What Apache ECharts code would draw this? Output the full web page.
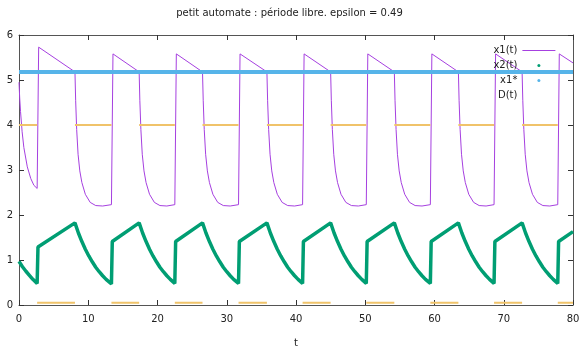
<!DOCTYPE html>
<html>
<head>
<meta charset="utf-8">
<script src="https://cdn.jsdelivr.net/npm/echarts@6/dist/echarts.min.js"></script>
<style>
  html, body { margin: 0; padding: 0; background: #fff; }
  #chart { width: 579px; height: 352px; }
</style>
</head>
<body>
<div id="chart"></div>
<script>
// Axis ticks
const xTicks = [0, 10, 20, 30, 40, 50, 60, 70, 80];
const yTicks = [0, 1, 2, 3, 4, 5, 6];

// x1(t): fast decay while D = 4, linear drift down to x1* while D is off
const x1Points = [
  [0, 4.95], [0.1, 4.6], [0.22, 4.3], [0.45, 3.85], [0.7, 3.5], [1.2, 3.07], [1.7, 2.81], [2.15, 2.66], [2.62, 2.59],
  [2.84, 5.73], [8.08, 5.18],
  [8.18, 4.55], [8.33, 3.9], [8.53, 3.35], [8.78, 2.98], [9.08, 2.72], [9.58, 2.46], [10.28, 2.28], [11.08, 2.21], [12.08, 2.2], [13.35, 2.23],
  [13.57, 5.58], [17.35, 5.18],
  [17.45, 4.55], [17.6, 3.9], [17.8, 3.35], [18.05, 2.98], [18.35, 2.72], [18.85, 2.46], [19.55, 2.28], [20.35, 2.21], [21.35, 2.2], [22.5, 2.23],
  [22.72, 5.58], [26.5, 5.18],
  [26.6, 4.55], [26.75, 3.9], [26.95, 3.35], [27.2, 2.98], [27.5, 2.72], [28.0, 2.46], [28.7, 2.28], [29.5, 2.21], [30.5, 2.2], [31.7, 2.23],
  [31.92, 5.58], [35.8, 5.18],
  [35.9, 4.55], [36.05, 3.9], [36.25, 3.35], [36.5, 2.98], [36.8, 2.72], [37.3, 2.46], [38.0, 2.28], [38.8, 2.21], [39.8, 2.2], [40.95, 2.23],
  [41.17, 5.58], [45.0, 5.18],
  [45.1, 4.55], [45.25, 3.9], [45.45, 3.35], [45.7, 2.98], [46.0, 2.72], [46.5, 2.46], [47.2, 2.28], [48.0, 2.21], [49.0, 2.2], [50.15, 2.23],
  [50.37, 5.58], [54.2, 5.18],
  [54.3, 4.55], [54.45, 3.9], [54.65, 3.35], [54.9, 2.98], [55.2, 2.72], [55.7, 2.46], [56.4, 2.28], [57.2, 2.21], [58.2, 2.2], [59.4, 2.23],
  [59.62, 5.58], [63.45, 5.18],
  [63.55, 4.55], [63.7, 3.9], [63.9, 3.35], [64.15, 2.98], [64.45, 2.72], [64.95, 2.46], [65.65, 2.28], [66.45, 2.21], [67.45, 2.2], [68.6, 2.23],
  [68.82, 5.58], [72.65, 5.18],
  [72.75, 4.55], [72.9, 3.9], [73.1, 3.35], [73.35, 2.98], [73.65, 2.72], [74.15, 2.46], [74.85, 2.28], [75.65, 2.21], [76.65, 2.2], [77.8, 2.23],
  [78.02, 5.58], [80, 5.38]
];

// x2(t): decays while D = 4, jumps then rises linearly while D is off
const x2Points = [
  [0, 0.97], [0.5, 0.85], [1.0, 0.75], [1.5, 0.66], [2.0, 0.57], [2.62, 0.48],
  [2.74, 1.29], [8.08, 1.825],
  [8.58, 1.6], [9.08, 1.41], [9.58, 1.24], [10.08, 1.09], [10.58, 0.96], [11.08, 0.84], [11.58, 0.74], [12.08, 0.65], [12.58, 0.57], [13.35, 0.47],
  [13.47, 1.41], [17.35, 1.825],
  [17.85, 1.6], [18.35, 1.41], [18.85, 1.24], [19.35, 1.09], [19.85, 0.96], [20.35, 0.84], [20.85, 0.74], [21.35, 0.65], [21.85, 0.57], [22.5, 0.48],
  [22.62, 1.41], [26.5, 1.825],
  [27.0, 1.6], [27.5, 1.41], [28.0, 1.24], [28.5, 1.09], [29.0, 0.96], [29.5, 0.84], [30.0, 0.74], [30.5, 0.65], [31.0, 0.57], [31.7, 0.48],
  [31.82, 1.41], [35.8, 1.825],
  [36.3, 1.6], [36.8, 1.41], [37.3, 1.24], [37.8, 1.09], [38.3, 0.96], [38.8, 0.84], [39.3, 0.74], [39.8, 0.65], [40.3, 0.57], [40.95, 0.48],
  [41.07, 1.41], [45.0, 1.825],
  [45.5, 1.6], [46.0, 1.41], [46.5, 1.24], [47.0, 1.09], [47.5, 0.96], [48.0, 0.84], [48.5, 0.74], [49.0, 0.65], [49.5, 0.57], [50.15, 0.48],
  [50.27, 1.41], [54.2, 1.825],
  [54.7, 1.6], [55.2, 1.41], [55.7, 1.24], [56.2, 1.09], [56.7, 0.96], [57.2, 0.84], [57.7, 0.74], [58.2, 0.65], [58.7, 0.57], [59.4, 0.48],
  [59.52, 1.41], [63.45, 1.825],
  [63.95, 1.6], [64.45, 1.41], [64.95, 1.24], [65.45, 1.09], [65.95, 0.96], [66.45, 0.84], [66.95, 0.74], [67.45, 0.65], [67.95, 0.57], [68.6, 0.48],
  [68.72, 1.41], [72.65, 1.825],
  [73.15, 1.6], [73.65, 1.41], [74.15, 1.24], [74.65, 1.09], [75.15, 0.96], [75.65, 0.84], [76.15, 0.74], [76.65, 0.65], [77.15, 0.57], [77.8, 0.48],
  [77.92, 1.41], [80, 1.63]
];

// x1*: threshold level
const x1Star = [[0, 5.18], [80, 5.18]];

// D(t): switching signal, 4 when on, ~0 when off ('-' breaks the line at each switch)
const dPoints = [
  [0, 4], [2.62, 4], [2.62, '-'],
  [2.62, 0.05], [8.08, 0.05], [8.08, '-'],
  [8.08, 4], [13.35, 4], [13.35, '-'],
  [13.35, 0.05], [17.35, 0.05], [17.35, '-'],
  [17.35, 4], [22.5, 4], [22.5, '-'],
  [22.5, 0.05], [26.5, 0.05], [26.5, '-'],
  [26.5, 4], [31.7, 4], [31.7, '-'],
  [31.7, 0.05], [35.8, 0.05], [35.8, '-'],
  [35.8, 4], [40.95, 4], [40.95, '-'],
  [40.95, 0.05], [45.0, 0.05], [45.0, '-'],
  [45.0, 4], [50.15, 4], [50.15, '-'],
  [50.15, 0.05], [54.2, 0.05], [54.2, '-'],
  [54.2, 4], [59.4, 4], [59.4, '-'],
  [59.4, 0.05], [63.45, 0.05], [63.45, '-'],
  [63.45, 4], [68.6, 4], [68.6, '-'],
  [68.6, 0.05], [72.65, 0.05], [72.65, '-'],
  [72.65, 4], [77.8, 4], [77.8, '-'],
  [77.8, 0.05], [80, 0.05]
];

const FONT = 'DejaVu Sans';
const AXIS_COLOR = '#555';
const TICK_COLOR = '#333';

function xAxisDef(pos, labels) {
  return {
    type: 'value', position: pos, min: xTicks[0], max: xTicks[xTicks.length - 1],
    interval: xTicks[1] - xTicks[0],
    name: labels ? 't' : '', nameLocation: 'middle', nameGap: 33,
    nameTextStyle: { fontFamily: FONT, fontSize: 10, color: '#222' },
    axisLine: { show: true, onZero: false, lineStyle: { color: AXIS_COLOR, width: 1 } },
    axisTick: { show: true, inside: true, length: 5, lineStyle: { color: TICK_COLOR } },
    axisLabel: { show: labels, margin: 9, fontFamily: FONT, fontSize: 10, color: '#222' },
    splitLine: { show: false }
  };
}
function yAxisDef(pos, labels) {
  return {
    type: 'value', position: pos, min: yTicks[0], max: yTicks[yTicks.length - 1],
    interval: yTicks[1] - yTicks[0],
    axisLine: { show: true, onZero: false, lineStyle: { color: AXIS_COLOR, width: 1 } },
    axisTick: { show: true, inside: true, length: 5, lineStyle: { color: TICK_COLOR } },
    axisLabel: { show: labels, margin: 6, fontFamily: FONT, fontSize: 10, color: '#222' },
    splitLine: { show: false }
  };
}

const chart = echarts.init(document.getElementById('chart'), null, { renderer: 'canvas' });
chart.setOption({
  animation: false,
  backgroundColor: '#fff',
  title: {
    text: 'petit automate : période libre. epsilon = 0.49',
    left: 'center', top: 8, padding: 0,
    textStyle: { fontFamily: FONT, fontSize: 10, fontWeight: 'normal', color: '#222' }
  },
  legend: {
    orient: 'vertical', align: 'right', right: 18, top: 38,
    itemWidth: 33, itemHeight: 3, itemGap: 0, selectedMode: false,
    textStyle: { fontFamily: FONT, fontSize: 10, color: '#222', lineHeight: 15 },
    data: [
      { name: 'x1(t)', itemStyle: { opacity: 0 }, lineStyle: { width: 1.2 } },
      { name: 'x2(t)', icon: 'circle' },
      { name: 'x1*', icon: 'circle' },
      { name: 'D(t)', icon: 'circle', itemStyle: { color: 'rgba(0,0,0,0)' } }
    ]
  },
  grid: { left: 19, right: 6, top: 35, bottom: 47, containLabel: false, outerBoundsMode: 'none' },
  xAxis: [xAxisDef('bottom', true), xAxisDef('top', false)],
  yAxis: [yAxisDef('left', true), yAxisDef('right', false)],
  series: [
    { name: 'x1(t)', type: 'line', data: x1Points, symbol: 'none', showSymbol: false,
      lineStyle: { color: '#a640e0', width: 1 }, itemStyle: { color: '#a640e0' } },
    { name: 'x2(t)', type: 'line', data: x2Points, symbol: 'none', showSymbol: false,
      lineStyle: { color: '#009e73', width: 3.5 }, itemStyle: { color: '#009e73' } },
    { name: 'x1*', type: 'line', data: x1Star, symbol: 'none', showSymbol: false,
      lineStyle: { color: '#56b4e9', width: 4 }, itemStyle: { color: '#56b4e9' } },
    { name: 'D(t)', type: 'line', data: dPoints, symbol: 'none', showSymbol: false, connectNulls: false,
      lineStyle: { color: '#f0c36a', width: 2 }, itemStyle: { color: '#f0c36a' } }
  ]
});
</script>
</body>
</html>
